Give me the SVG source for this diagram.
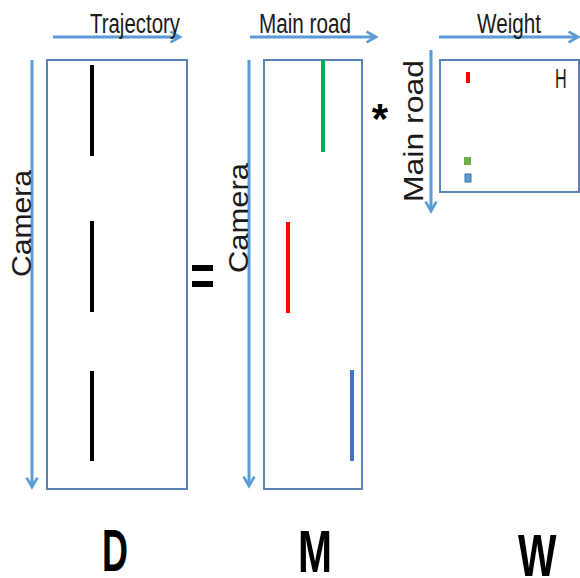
<svg xmlns="http://www.w3.org/2000/svg" width="580" height="578" viewBox="0 0 580 578">
  <defs>
    <marker id="head" viewBox="0 0 10 10" refX="8" refY="5" markerWidth="4.5" markerHeight="4.5" orient="auto">
      <path d="M1,1 L8,5 L1,9" fill="none" stroke="#5b9bd5" stroke-width="2"/>
    </marker>
    <style>
      .axis { stroke: #5b9bd5; stroke-width: 3; fill: none; marker-end: url(#head); }
      .box { fill: #fff; stroke: #5a82b4; stroke-width: 2; }
      .lbl { font-family: "Liberation Sans", Arial, sans-serif; font-size: 27px; fill: #1a1a1a; }
      .big { font-family: "Liberation Sans", Arial, sans-serif; font-size: 60px; font-weight: bold; fill: #000; }
      .seg { stroke-width: 4; stroke-linecap: butt; }
    </style>
  </defs>

  <!-- axis arrows -->
  <g id="connectors">
    <line class="axis" x1="53" y1="37" x2="180" y2="37"/>
    <line class="axis" x1="32" y1="60" x2="32" y2="487"/>
    <line class="axis" x1="250" y1="37" x2="376" y2="37"/>
    <line class="axis" x1="249" y1="60" x2="249" y2="486"/>
    <line class="axis" x1="439" y1="37" x2="578" y2="37"/>
    <line class="axis" x1="431" y1="50" x2="431" y2="211"/>
  </g>

  <!-- D matrix -->
  <g id="matrix-d">
    <rect class="box" x="47" y="60" width="140" height="429"/>
    <line class="seg" x1="92" y1="65" x2="92" y2="156" stroke="#000"/>
    <line class="seg" x1="92" y1="221" x2="92" y2="312" stroke="#000"/>
    <line class="seg" x1="92" y1="371" x2="92" y2="461" stroke="#000"/>
    <text class="lbl" x="90" y="33" textLength="90" lengthAdjust="spacingAndGlyphs">Trajectory</text>
    <text class="lbl" transform="translate(31,277) rotate(-90)" font-size="23" textLength="107" lengthAdjust="spacingAndGlyphs">Camera</text>
    <text class="big" transform="translate(102,571) scale(0.6,1)">D</text>
  </g>

  <!-- equals sign -->
  <g id="equals">
    <rect x="192" y="265" width="21" height="6" fill="#000"/>
    <rect x="192" y="281" width="21" height="6" fill="#000"/>
  </g>

  <!-- M matrix -->
  <g id="matrix-m">
    <rect class="box" x="264" y="60" width="98" height="429"/>
    <line class="seg" x1="323" y1="60" x2="323" y2="152" stroke="#00b050" stroke-width="3.5"/>
    <line class="seg" x1="288" y1="222" x2="288" y2="313" stroke="#ff0000" stroke-width="3.5"/>
    <line class="seg" x1="352" y1="370" x2="352" y2="461" stroke="#4472c4" stroke-width="3.5"/>
    <text class="lbl" x="259" y="33" textLength="92" lengthAdjust="spacingAndGlyphs">Main road</text>
    <text class="lbl" transform="translate(248,273) rotate(-90)" font-size="21" textLength="110" lengthAdjust="spacingAndGlyphs">Camera</text>
    <text class="big" transform="translate(298,572) scale(0.68,1)">M</text>
  </g>

  <!-- multiplication sign -->
  <g id="times">
    <text x="380" y="133" text-anchor="middle" font-family="Liberation Sans, Arial, sans-serif" font-size="42" font-weight="bold" fill="#000">*</text>
  </g>

  <!-- W matrix -->
  <g id="matrix-w">
    <rect class="box" x="440" y="60" width="139" height="132"/>
    <rect x="466" y="72" width="4" height="11" fill="#ff0000"/>
    <rect x="464" y="157" width="7" height="8" fill="#70ad47"/>
    <rect x="465" y="174" width="6" height="8" fill="#5b9bd5" stroke="#41719c" stroke-width="1"/>
    <text class="lbl" transform="translate(555,88) scale(0.6,1)" font-size="32">H</text>
    <text class="lbl" x="477" y="33" textLength="64" lengthAdjust="spacingAndGlyphs">Weight</text>
    <text class="lbl" transform="translate(423,202) rotate(-90)" font-size="20" textLength="142" lengthAdjust="spacingAndGlyphs">Main road</text>
    <text class="big" transform="translate(518,576) scale(0.68,1)">W</text>
  </g>
</svg>
